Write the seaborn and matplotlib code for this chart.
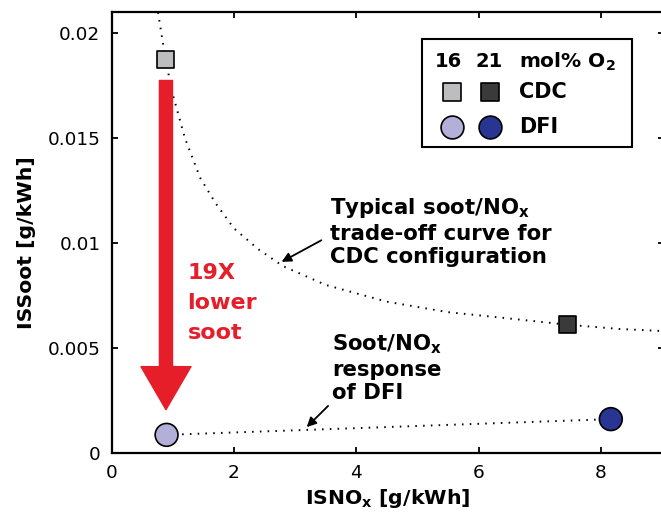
import matplotlib
matplotlib.use("Agg")
import matplotlib.pyplot as plt
from matplotlib.patches import FancyArrowPatch, Rectangle
import seaborn as sns
import pandas as pd

# ---------------- data ----------------
curve_nox = [0.76, 0.886, 1.0, 1.2, 1.45, 1.7, 2.0, 2.4, 2.8, 3.5, 4.5, 5.5, 6.5, 7.46, 8.3, 9.0]
curve_soot = [0.0210, 0.0187, 0.0171, 0.0150, 0.0131, 0.0119, 0.0107, 0.0097, 0.0089,
              0.0080, 0.0072, 0.0067, 0.0064, 0.0061, 0.0059, 0.0058]

cdc_nox = [0.886, 7.46]
cdc_soot = [0.01875, 0.0061]
dfi_nox = [0.90, 8.16]
dfi_soot = [0.00085, 0.0016]
o2_levels = ["16", "21"]

xticks = [0, 2, 4, 6, 8]
yticks = [0, 0.005, 0.01, 0.015, 0.02]
yticklabels = ["0", "0.005", "0.01", "0.015", "0.02"]

# ---------------- style ----------------
sns.set_style("ticks")
plt.rcParams["font.family"] = ["DejaVu Sans"]
plt.rcParams["mathtext.fontset"] = "dejavusans"
for k in ["text.color", "axes.labelcolor", "xtick.color", "ytick.color", "axes.edgecolor"]:
    plt.rcParams[k] = "black"

C_CDC = {"16": "#BDBDC0", "21": "#3A3A3A"}
C_DFI = {"16": "#B2B0D8", "21": "#283593"}
RED = "#E61E2A"

fig = plt.figure(figsize=(6.61, 5.22), dpi=100)
ax = fig.add_axes([0.1687, 0.1328, 0.8359, 0.8436])

dotted = (0, (0.8, 3.2))

# trade-off curve and DFI response line
sns.lineplot(x=curve_nox, y=curve_soot, sort=False, color="black", lw=1.4,
             linestyle=dotted, ax=ax, zorder=2)
sns.lineplot(x=dfi_nox, y=dfi_soot, sort=False, color="black", lw=1.4,
             linestyle=dotted, ax=ax, zorder=2)

# points
df_cdc = pd.DataFrame({"nox": cdc_nox, "soot": cdc_soot, "o2": o2_levels})
df_dfi = pd.DataFrame({"nox": dfi_nox, "soot": dfi_soot, "o2": o2_levels})
sns.scatterplot(data=df_cdc, x="nox", y="soot", hue="o2", palette=C_CDC, marker="s",
                s=150, edgecolor="black", linewidth=1.2, legend=False, ax=ax, zorder=4)
sns.scatterplot(data=df_dfi, x="nox", y="soot", hue="o2", palette=C_DFI, marker="o",
                s=270, edgecolor="black", linewidth=1.2, legend=False, ax=ax, zorder=4)

# red arrow
arr = FancyArrowPatch((0.89, 0.01775), (0.89, 0.00205),
                      arrowstyle="simple,head_length=31,head_width=36,tail_width=9.4",
                      mutation_scale=1, color=RED, shrinkA=0, shrinkB=0, zorder=3)
ax.add_patch(arr)
ax.text(1.24, 0.00905, "19X\nlower\nsoot", color=RED, fontsize=16, fontweight="bold",
        ha="left", va="top", linespacing=1.62)

# annotations
ax.text(3.57, 0.01225, "Typical soot/NO$_\\mathbf{x}$\ntrade-off curve for\nCDC configuration",
        fontsize=15.3, fontweight="bold", ha="left", va="top", linespacing=1.24)
ax.annotate("", xy=(2.78, 0.0091), xytext=(3.43, 0.01013),
            arrowprops=dict(arrowstyle="-|>", lw=1.3, color="black", mutation_scale=14,
                            shrinkA=0, shrinkB=0))
ax.text(3.60, 0.00575, "Soot/NO$_\\mathbf{x}$\nresponse\nof DFI",
        fontsize=15.3, fontweight="bold", ha="left", va="top", linespacing=1.24)
ax.annotate("", xy=(3.19, 0.00122), xytext=(3.54, 0.00223),
            arrowprops=dict(arrowstyle="-|>", lw=1.3, color="black", mutation_scale=14,
                            shrinkA=0, shrinkB=0))

# custom legend box
tr = ax.transAxes
ax.add_patch(Rectangle((0.5627, 0.6941), 0.9418 - 0.5627, 0.9387 - 0.6941, transform=tr,
                       fill=True, facecolor="white", edgecolor="black", lw=1.5, zorder=5))
ax.text(0.610, 0.8878, "16", transform=tr, ha="center", va="center", fontsize=14,
        fontweight="bold", zorder=6)
ax.text(0.6834, 0.8878, "21", transform=tr, ha="center", va="center", fontsize=14,
        fontweight="bold", zorder=6)
ax.text(0.7374, 0.8878, "mol% O$_\\mathbf{2}$", transform=tr, ha="left", va="center",
        fontsize=14.5, fontweight="bold", zorder=6)
for xk, lev in zip([0.616, 0.6852], o2_levels):
    ax.scatter([xk], [0.8197], transform=tr, marker="s", s=150, color=C_CDC[lev],
               edgecolor="black", linewidth=1.2, zorder=6, clip_on=False)
    ax.scatter([xk], [0.7402], transform=tr, marker="o", s=270, color=C_DFI[lev],
               edgecolor="black", linewidth=1.2, zorder=6, clip_on=False)
ax.text(0.7374, 0.8197, "CDC", transform=tr, ha="left", va="center", fontsize=15,
        fontweight="bold", zorder=6)
ax.text(0.7374, 0.7402, "DFI", transform=tr, ha="left", va="center", fontsize=15,
        fontweight="bold", zorder=6)

# axes
ax.set_xlim(0, 9.03)
ax.set_ylim(0, 0.021)
ax.set_xticks(xticks)
ax.set_yticks(yticks)
ax.set_yticklabels(yticklabels)
ax.tick_params(direction="in", length=4.5, width=1.3, labelsize=13.3, top=True, right=True)
ax.tick_params(axis="y", pad=8)
ax.tick_params(axis="x", pad=8)
for sp in ax.spines.values():
    sp.set_linewidth(1.6)
    sp.set_visible(True)
ax.set_xlabel("ISNO$_\\mathbf{x}$ [g/kWh]", fontsize=14.7, fontweight="bold", labelpad=4)
ax.set_ylabel("ISSoot [g/kWh]", fontsize=14.7, fontweight="bold")
ax.yaxis.set_label_coords(-0.137, 0.476)

fig.savefig("out.png", dpi=100)
